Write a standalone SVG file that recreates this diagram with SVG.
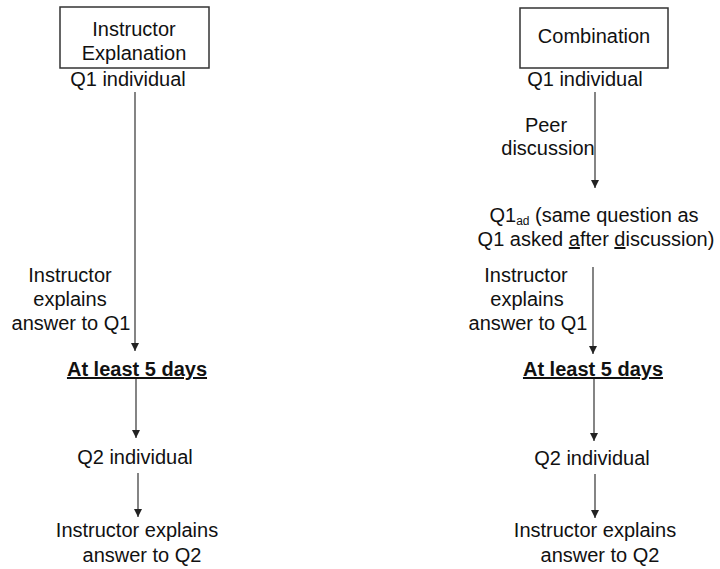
<svg xmlns="http://www.w3.org/2000/svg" width="720" height="569" viewBox="0 0 720 569">
<style>
  text { font-family: "Liberation Sans", Arial, sans-serif; font-size: 20px; fill: #111; }
  .c { text-anchor: middle; }
  .b { font-weight: bold; text-decoration: underline; }
  .box { fill: #fff; stroke: #333; stroke-width: 1.5; }
  .conn { stroke: #333; stroke-width: 1.2; fill: none; marker-end: url(#arr); }
</style>
<defs>
  <marker id="arr" viewBox="0 0 8 10" refX="8" refY="5" markerWidth="8" markerHeight="10" markerUnits="userSpaceOnUse" orient="auto">
    <path d="M0,1 L8,5 L0,9 z" fill="#222"/>
  </marker>
</defs>
<rect width="720" height="569" fill="#fff"/>

<g id="connectors">
  <line class="conn" x1="135" y1="92" x2="135" y2="351"/>
  <line class="conn" x1="136" y1="379" x2="136" y2="438"/>
  <line class="conn" x1="138" y1="473" x2="138" y2="517"/>
  <line class="conn" x1="595" y1="92" x2="595" y2="188"/>
  <line class="conn" x1="593" y1="267" x2="593" y2="354"/>
  <line class="conn" x1="594" y1="379" x2="594" y2="441"/>
  <line class="conn" x1="595" y1="474" x2="595" y2="518"/>
</g>

<g id="left-header">
  <rect class="box" x="60" y="7" width="149" height="61"/>
  <text class="c" x="134" y="36">Instructor</text>
  <text class="c" x="134" y="60">Explanation</text>
</g>
<g id="left-q1">
  <text class="c" x="128" y="86">Q1 individual</text>
</g>
<g id="left-explain-q1">
  <text class="c" x="70" y="282">Instructor</text>
  <text class="c" x="70" y="306">explains</text>
  <text class="c" x="71" y="330">answer to Q1</text>
</g>
<g id="left-days">
  <text class="c b" x="137" y="376">At least 5 days</text>
</g>
<g id="left-q2">
  <text class="c" x="135" y="464">Q2 individual</text>
</g>
<g id="left-explain-q2">
  <text class="c" x="137" y="537">Instructor explains</text>
  <text class="c" x="142" y="562">answer to Q2</text>
</g>

<g id="right-header">
  <rect class="box" x="520" y="8" width="148" height="60"/>
  <text class="c" x="594" y="43">Combination</text>
</g>
<g id="right-q1">
  <text class="c" x="585" y="86">Q1 individual</text>
</g>
<g id="right-peer">
  <text class="c" x="546" y="132">Peer</text>
  <text class="c" x="548" y="155">discussion</text>
</g>
<g id="right-q1ad">
  <text class="c" x="594" y="222">Q1<tspan font-size="12" dy="3">ad</tspan><tspan dy="-3"> (same question as</tspan></text>
  <text class="c" x="596" y="246">Q1 asked <tspan text-decoration="underline">a</tspan>fter <tspan text-decoration="underline">d</tspan>iscussion)</text>
</g>
<g id="right-explain-q1">
  <text class="c" x="526" y="282">Instructor</text>
  <text class="c" x="527" y="306">explains</text>
  <text class="c" x="528" y="330">answer to Q1</text>
</g>
<g id="right-days">
  <text class="c b" x="593" y="376">At least 5 days</text>
</g>
<g id="right-q2">
  <text class="c" x="592" y="465">Q2 individual</text>
</g>
<g id="right-explain-q2">
  <text class="c" x="595" y="537">Instructor explains</text>
  <text class="c" x="600" y="562">answer to Q2</text>
</g>
</svg>
